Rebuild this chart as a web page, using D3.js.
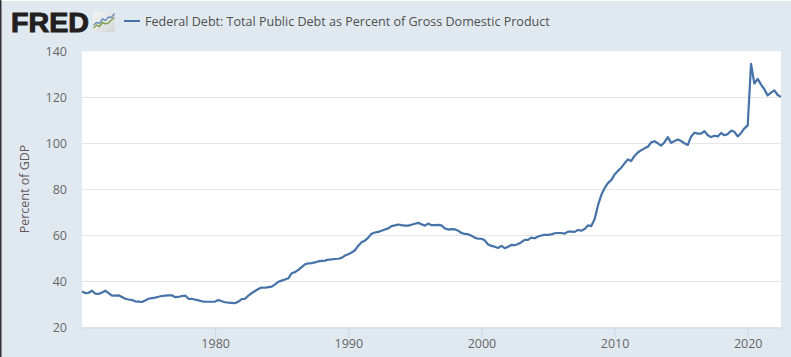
<!DOCTYPE html>
<html><head><meta charset="utf-8">
<script src="https://cdn.jsdelivr.net/npm/d3@7/dist/d3.min.js"></script>
<style>html,body{margin:0;padding:0;background:#e1e9f0;overflow:hidden}svg{display:block}</style>
</head><body><svg id="c" width="791" height="357"></svg>
<script>
const startYear = 1970;
const values = [
35.6,34.9,35.0,35.9, 34.6,34.5,35.1,35.9, 34.9,33.8,33.8,33.9, 33.2,32.4,32.1,31.9,
31.3,31.2,31.0,31.7, 32.4,32.7,32.9,33.3, 33.6,33.8,33.9,33.9, 33.1,33.2,33.6,33.8,
32.4,32.4,32.0,31.7, 31.3,31.1,31.1,31.1, 31.2,31.9,31.3,30.9, 30.7,30.6,30.5,31.2,
32.3,32.4,33.8,34.9, 35.8,36.7,37.3,37.2, 37.5,37.7,38.7,39.8, 40.3,40.8,41.3,43.5,
44.0,45.0,46.2,47.4, 47.8,47.9,48.2,48.7, 48.9,49.0,49.4,49.5, 49.7,49.8,50.2,51.2,
51.8,52.5,53.5,55.5, 57.0,57.7,59.0,60.7, 61.2,61.5,62.0,62.5, 63.0,64.0,64.3,64.7,
64.4,64.2,64.2,64.6, 65.0,65.4,64.8,64.2, 65.1,64.4,64.4,64.5, 64.3,63.0,62.5,62.7,
62.6,62.0,61.0,60.6, 60.5,59.8,59.0,58.5, 58.5,57.8,56.0,55.4, 55.0,54.5,55.4,54.4,
55.0,55.8,55.7,56.2, 57.0,58.0,58.0,59.0, 58.7,59.5,59.9,60.2, 60.2,60.4,60.9,61.0,
61.0,60.7,61.6,61.6, 61.5,62.3,62.0,62.7, 64.3,64.0,67.0,73.0, 77.5,80.5,82.7,84.0,
86.4,88.0,89.4,91.3, 93.0,92.3,94.5,96.0, 97.0,97.8,98.5,100.4, 100.9,100.0,99.0,100.5,
102.7,100.2,101.0,101.7, 101.0,100.0,99.3,103.0, 104.6,104.2,104.2,105.3, 103.5,102.7,103.3,103.0,
104.5,103.5,104.0,105.5, 105.0,103.0,104.5,106.5, 107.8,134.5,126.0,128.0, 125.5,123.5,120.8,122.0,
123.0,121.0,120.2
];
const seriesName = "Federal Debt: Total Public Debt as Percent of Gross Domestic Product";
const yTicks = [20,40,60,80,100,120,140];
const xTicks = [1980,1990,2000,2010,2020];
const yLabel = "Percent of GDP";
const logoText = "FRED";
const iconBlue = [2,3,2.6,4.4,3.8,5.2,5,6.6];
const iconGreen = [0.8,2,1.4,3,2.4,2.8,4,5];

const font = "'Open Sans', sans-serif";
const svg = d3.select("#c");
const m = {l:82, r:781, t:51.3, b:327.3};
const data = values.map((v,i)=>({t:startYear+i/4, v}));
const x = d3.scaleLinear().domain([startYear, startYear+(values.length-1)/4]).range([m.l,m.r]);
const y = d3.scaleLinear().domain([20,140]).range([m.b,m.t]);

svg.append("rect").attr("width",791).attr("height",357).attr("fill","#e1e9f0");
svg.append("rect").attr("x",0).attr("y",0).attr("width",1.5).attr("height",357).attr("fill","#333");
svg.append("rect").attr("x",1.5).attr("y",0).attr("width",790).attr("height",1).attr("fill","#fff");
svg.append("rect").attr("x",m.l).attr("y",m.t).attr("width",m.r-m.l).attr("height",m.b-m.t).attr("fill","#fff");

const gy = svg.append("g").attr("transform",`translate(${m.l},0)`)
  .call(d3.axisLeft(y).tickValues(yTicks).tickSize(0).tickPadding(15));
gy.select(".domain").remove();
gy.selectAll("text").attr("font-family",font).attr("font-size",12.5).attr("fill","#666");
svg.append("g").selectAll("line").data(yTicks.slice(1,-1)).join("line")
  .attr("x1",m.l).attr("x2",m.r).attr("y1",d=>Math.round(y(d))+.5).attr("y2",d=>Math.round(y(d))+.5)
  .attr("stroke","#e6e6e6").attr("stroke-width",1);

const gx = svg.append("g").attr("transform",`translate(0,${Math.round(m.b)+.5})`)
  .call(d3.axisBottom(x).tickValues(xTicks).tickFormat(d3.format("d")).tickSize(10).tickPadding(2).tickSizeOuter(0));
gx.select(".domain").attr("stroke","#ccd6eb");
gx.selectAll("line").attr("stroke","#ccd6eb");
gx.selectAll("text").attr("font-family",font).attr("font-size",12.5).attr("fill","#666");

svg.append("path").datum(data)
  .attr("d",d3.line().x(d=>x(d.t)).y(d=>y(d.v)))
  .attr("fill","none").attr("stroke","#4572a7").attr("stroke-width",2.2).attr("stroke-linejoin","round");

svg.append("text").attr("transform","translate(29,189) rotate(-90)").attr("text-anchor","middle")
  .attr("font-family",font).attr("font-size",12.5).attr("fill","#66565a").text(yLabel);

// legend
svg.append("line").attr("x1",124).attr("x2",140).attr("y1",21).attr("y2",21)
  .attr("stroke","#4572a7").attr("stroke-width",2);
svg.append("text").attr("x",145).attr("y",26).attr("font-family",font).attr("font-size",12.55)
  .attr("fill","#4f4f4f").text(seriesName);

// logo
svg.append("text").attr("x",11).attr("y",31.7).attr("font-family","'Liberation Sans',sans-serif")
  .attr("font-weight",700).attr("font-size",27.5).attr("textLength",78).attr("lengthAdjust","spacingAndGlyphs")
  .attr("stroke","#231f20").attr("stroke-width",1).attr("fill","#231f20").text(logoText);
const defs = svg.append("defs").append("linearGradient").attr("id","ig").attr("x1",0).attr("y1",0).attr("x2",1).attr("y2",1);
defs.append("stop").attr("offset",0).attr("stop-color","#f4f4f4");
defs.append("stop").attr("offset",1).attr("stop-color","#d4d6d8");
svg.append("rect").attr("x",93).attr("y",12).attr("width",22).attr("height",20).attr("rx",1.5).attr("fill","url(#ig)");
const ix = d3.scaleLinear().domain([0,7]).range([93.5,114.5]);
const iy = d3.scaleLinear().domain([0,7]).range([30,12.5]);
const il = d3.line().x((d,i)=>ix(i)).y(d=>iy(d));
svg.append("path").attr("d",il(iconBlue)).attr("fill","none").attr("stroke","#6b8fb5").attr("stroke-width",1.4);
svg.append("path").attr("d",il(iconGreen)).attr("fill","none").attr("stroke","#7fa04a").attr("stroke-width",1.4);
</script></body></html>
